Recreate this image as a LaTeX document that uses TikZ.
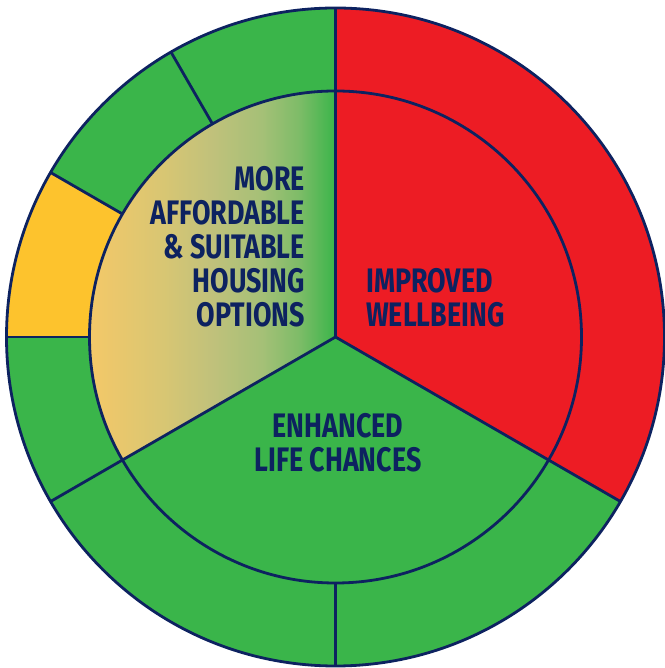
\documentclass[tikz,border=0pt]{standalone}
\usepackage{fontspec}
\newfontfamily\lblfont[FakeStretch=0.79]{Fira Sans}
\definecolor{wred}{HTML}{ED1C24}
\definecolor{wgreen}{HTML}{3AB54A}
\definecolor{wyellow}{HTML}{FDC32D}
\definecolor{wnavy}{HTML}{0D2260}
\definecolor{gz}{HTML}{F4C868}
\definecolor{ga}{HTML}{D8C673}
\definecolor{gb}{HTML}{C0C17B}
\definecolor{gc}{HTML}{A5C077}
\definecolor{gd}{HTML}{7EBC68}
\pgfdeclarehorizontalshading{housegrad}{100bp}{color(0bp)=(gz); color(25bp)=(gz); color(40bp)=(ga); color(50bp)=(gb); color(60bp)=(gc); color(67.5bp)=(gd); color(75bp)=(wgreen); color(100bp)=(wgreen)}
\tikzset{
  divider/.style={draw=wnavy, line width=2.8pt},
  lbl/.style={font=\lblfont\bfseries\fontsize{34}{34}\selectfont, text=wnavy, inner sep=0pt},
}
\newcommand\ringseg[3]{\fill[#3] (#1:\Ro) arc[start angle=#1,end angle=#2,radius=\Ro] -- (#2:\Ri) arc[start angle=#2,end angle=#1,radius=\Ri] -- cycle;}
\begin{document}
\begin{tikzpicture}[x=1pt,y=1pt,line join=round]
\useasboundingbox (0,0) rectangle (664,668);
\coordinate (C) at (335.5,331);
\def\Ro{329}
\def\Ri{246}
\begin{scope}[shift={(C)}]
  % outer ring
  \ringseg{90}{120}{wgreen}
  \ringseg{120}{150}{wgreen}
  \ringseg{150}{180}{wyellow}
  \ringseg{180}{210}{wgreen}
  \ringseg{210}{270}{wgreen}
  \ringseg{270}{330}{wgreen}
  \ringseg{-30}{90}{wred}
  % inner sectors
  \fill[wred] (0,0) -- (-30:\Ri) arc[start angle=-30,end angle=90,radius=\Ri] -- cycle;
  \fill[wgreen] (0,0) -- (210:\Ri) arc[start angle=210,end angle=330,radius=\Ri] -- cycle;
  \shade[shading=housegrad] (0,0) -- (90:\Ri) arc[start angle=90,end angle=210,radius=\Ri] -- cycle;
  % dividers
  \coordinate (O) at (0,0);
  \foreach \a/\n in {90/t,-30/r,210/l}{\coordinate (e\n) at (\a:\Ro);}
  \foreach \a/\n in {120/a,150/b,180/c,270/d}{\coordinate (i\n) at (\a:\Ri); \coordinate (o\n) at (\a:\Ro);}
  \draw[divider] (O) -- (et);
  \draw[divider] (O) -- (er);
  \draw[divider] (O) -- (el);
  \draw[divider] (ia) -- (oa);
  \draw[divider] (ib) -- (ob);
  \draw[divider] (ic) -- (oc);
  \draw[divider] (id) -- (od);
  \draw[divider] (O) circle[radius=\Ri];
  \draw[divider] (O) circle[radius=\Ro];
\end{scope}
\node[lbl, anchor=base east, align=right] (housing) at (305,341) {MORE\\AFFORDABLE\\\&~SUITABLE\\HOUSING\\OPTIONS};
\node[lbl, anchor=base west, align=left] (wellbeing) at (366,341) {IMPROVED\\WELLBEING};
\node[lbl, anchor=base, align=center] (life) at (338,196) {ENHANCED\\LIFE CHANCES};
\end{tikzpicture}
\end{document}
